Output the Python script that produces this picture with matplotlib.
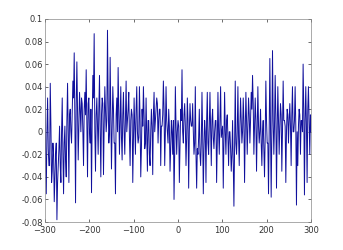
import matplotlib
matplotlib.use("Agg")
import matplotlib.pyplot as plt
import numpy as np

# signal: spikes every 3 units from -300 to 300 ...
x_peak = np.arange(-300, 301, 3)
y_peak = [
    0.04, -0.055, 0.03, -0.03, 0.043, -0.045, -0.01, -0.062, -0.02, -0.078,
    -0.03, 0.005, -0.045, 0.03, -0.055, 0.005, -0.04, 0.043, -0.045, 0.02,
    -0.01, 0.045, 0.07, -0.063, 0.062, -0.025, 0.035, 0.0, 0.025, -0.03,
    0.035, 0.055, -0.04, 0.03, -0.01, -0.054, 0.05, 0.087, -0.035, 0.03,
    -0.02, 0.05, -0.04, 0.03, -0.038, 0.04, 0.0, 0.09, -0.01, 0.066,
    -0.033, 0.04, -0.01, -0.055, 0.03, 0.057, -0.02, 0.04, -0.025, 0.035,
    -0.02, 0.045, 0.01, 0.035, -0.03, 0.02, -0.045, 0.03, -0.02, 0.04,
    -0.01, 0.04, -0.04, 0.02, 0.04, -0.015, 0.03, -0.035, 0.01, -0.03,
    0.02, -0.038, 0.035, 0.01, 0.03, -0.01, 0.02, -0.03, 0.005, 0.045,
    -0.03, 0.04, 0.0, 0.02, -0.035, 0.01, -0.02, -0.06, 0.04, -0.02,
    0.01, -0.045, 0.02, 0.055, -0.01, 0.025, -0.03, 0.03, -0.05, 0.025,
    0.005, 0.025, -0.02, 0.04, -0.05, -0.02, 0.02, -0.03, 0.035, -0.055,
    0.01, -0.045, 0.035, -0.02, 0.035, -0.03, 0.02, -0.015, 0.01, -0.045,
    0.035, -0.02, 0.04, 0.0, -0.05, 0.035, -0.02, 0.015, -0.03, 0.0,
    -0.035, 0.01, -0.066, 0.045, -0.02, 0.04, -0.03, 0.03, -0.01, 0.03,
    -0.045, 0.035, -0.02, 0.03, -0.01, 0.035, 0.05, -0.02, 0.03, -0.035,
    0.04, -0.01, 0.02, -0.03, 0.01, -0.04, 0.045, -0.01, -0.055, 0.065,
    -0.058, 0.072, -0.02, 0.05, -0.05, 0.04, -0.02, 0.025, -0.035, 0.045,
    0.01, -0.045, 0.02, -0.01, 0.025, -0.03, 0.04, 0.0, 0.04, -0.065,
    -0.03, 0.02, -0.02, 0.01, 0.06, -0.056, 0.04, -0.045, 0.04, -0.02,
    0.0,
]
# ... and the dark core band in between them
x_core = np.arange(-298.5, 300, 3)
y_core = [
    -0.02, 0.0, -0.015, -0.03, 0.005, -0.035, -0.02, -0.04, -0.01, -0.045,
    -0.015, -0.03, 0.0, -0.02, -0.01, -0.025, 0.01, -0.005, 0.015, 0.0,
    0.02, 0.03, 0.01, 0.025, 0.015, 0.005, 0.02, 0.03, 0.0, 0.02,
    0.015, 0.005, 0.025, 0.0, 0.02, 0.01, 0.03, 0.0, 0.015, 0.005,
    0.02, 0.0, 0.015, 0.025, 0.005, 0.02, 0.01, 0.03, 0.0, 0.015,
    0.005, 0.02, -0.01, 0.015, 0.0, 0.02, 0.01, -0.005, 0.015, 0.0,
    0.01, 0.0, 0.02, -0.005, 0.01, 0.015, -0.01, 0.005, 0.02, 0.0,
    -0.005, 0.01, -0.015, 0.005, 0.015, -0.01, 0.0, 0.01, -0.02, 0.0,
    0.005, 0.015, 0.0, 0.02, 0.025, 0.01, 0.02, 0.005, 0.015, 0.02,
    0.0, 0.01, -0.01, 0.005, -0.015, 0.0, 0.01, -0.02, 0.005, 0.0,
    0.005, -0.01, 0.01, 0.0, 0.015, 0.005, -0.005, 0.01, 0.0, 0.01,
    0.005, 0.0, -0.01, -0.02, -0.015, -0.005, -0.02, -0.01, 0.0, -0.015,
    0.0, 0.01, -0.01, 0.005, 0.0, 0.01, -0.005, 0.0, 0.01, -0.01,
    0.0, 0.01, -0.005, 0.005, -0.01, 0.0, 0.01, -0.005, 0.0, -0.015,
    -0.02, -0.03, -0.015, -0.01, 0.0, -0.005, 0.005, 0.01, 0.0, 0.01,
    0.0, 0.01, 0.005, 0.015, 0.01, 0.02, 0.025, 0.005, 0.01, 0.0,
    0.005, 0.0, -0.01, 0.0, -0.015, -0.005, 0.01, -0.01, 0.0, 0.005,
    0.0, 0.01, 0.005, 0.015, 0.0, 0.01, 0.005, 0.015, 0.0, 0.01,
    0.005, 0.0, 0.015, 0.01, 0.005, 0.015, 0.0, 0.01, 0.005, 0.0,
    0.005, 0.015, 0.01, 0.0, 0.02, 0.01, 0.005, 0.02, 0.01, 0.015,
]

x = np.concatenate([x_peak, x_core])
y = np.concatenate([y_peak, y_core])
order = np.argsort(x)
x, y = x[order], y[order]

fig = plt.figure(figsize=(3.43, 2.5), dpi=100)
ax = fig.add_axes([0.131, 0.112, 0.776, 0.812])
ax.plot(x, y, color='#10109c', linewidth=0.7)

ax.set_xlim(-300, 300)
ax.set_ylim(-0.08, 0.1)
ax.set_xticks(np.arange(-300, 301, 100))
ax.set_yticks(np.arange(-0.08, 0.101, 0.02))
ax.set_yticklabels(['%g' % round(v, 2) for v in np.arange(-0.08, 0.101, 0.02)])
ax.tick_params(direction='in', top=True, right=True, labelsize=6,
               length=2.5, width=0.5, colors='#333333')
ax.tick_params(axis='y', pad=1.5)
ax.tick_params(axis='x', pad=3)
for s in ax.spines.values():
    s.set_linewidth(0.5)
    s.set_color('#888888')

fig.savefig('out.png', dpi=100)
